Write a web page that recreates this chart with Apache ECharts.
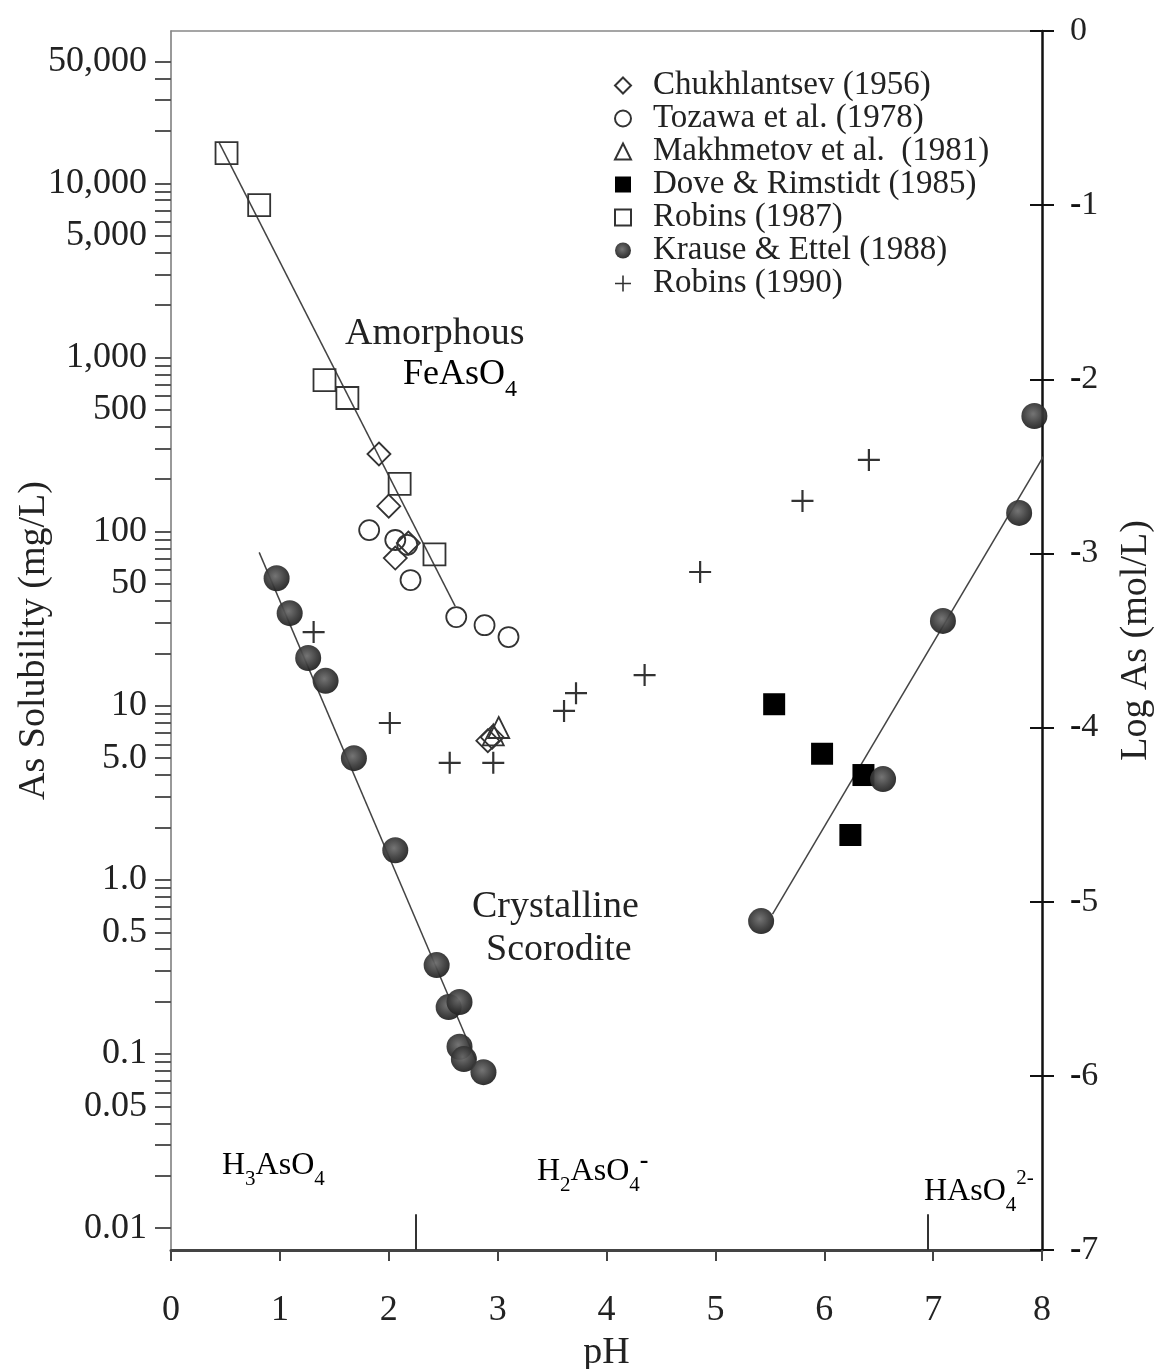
<!DOCTYPE html>
<html><head><meta charset="utf-8">
<script src="https://cdn.jsdelivr.net/npm/echarts@6/dist/echarts.min.js"></script>
<style>html,body{margin:0;padding:0;background:#fff}#c{width:1157px;height:1369px}</style>
</head><body><div id="c"></div>
<script>
// ---------- data (pH, As mg/L) ----------
const chukhlantsev = [[1.91,279],[2.00,140],[2.06,70.5],[2.18,86],[2.91,6.3],[2.95,6.6]];
const tozawa = [[1.82,102],[2.06,89.5],[2.17,84],[2.20,52.7],[2.62,32.3],[2.88,29],[3.10,24.8]];
const makhmetov = [[2.96,6.8],[3.01,7.5]];
const doveRimstidt = [[5.54,10.2],[5.98,5.3],[6.36,4.0],[6.24,1.81]];
const robins1987 = [[0.51,14900],[0.81,7500],[1.41,741],[1.62,585],[2.10,188],[2.42,74]];
const krauseEttel = [[0.97,54],[1.09,34],[1.26,18.8],[1.42,13.9],[1.68,5.0],[2.06,1.48],[2.44,0.324],
  [2.55,0.186],[2.65,0.199],[2.65,0.110],[2.69,0.0935],[2.87,0.0787],
  [5.42,0.58],[6.54,3.79],[7.09,30.7],[7.79,128],[7.93,461]];
const robins1990 = [[1.31,26.5],[2.01,7.96],[2.56,4.70],[2.96,4.70],[3.61,9.34],[3.72,11.8],[4.35,15.0],[4.86,58.6],[5.80,150],[6.41,258]];
// fitted lines
const fitAmorphous = [[0.44,17250],[2.61,37.3]];
const fitScoroditeAcid = [[0.81,76],[2.80,0.092]];
const fitScoroditeNeutral = [[5.525,0.636],[8.05,295]];
// pKa values of arsenic acid
const pKa = [2.25, 6.95];
// axis ticks
const xTicks = [0,1,2,3,4,5,6,7,8];
const leftLabelValues = [50000,10000,5000,1000,500,100,50,10,5,1,0.5,0.1,0.05,0.01];
const leftLabelTexts = ['50,000','10,000','5,000','1,000','500','100','50','10','5.0','1.0','0.5','0.1','0.05','0.01'];
const rightTicks = [0,-1,-2,-3,-4,-5,-6,-7];
const AS_MG_PER_MOL = 74921.6;

// ---------- helpers ----------
const lg = v => Math.log10(v);
const toXY = arr => arr.map(p => [p[0], lg(p[1])]);
const LMIN = lg(AS_MG_PER_MOL * 1e-7);
const LMAX = lg(AS_MG_PER_MOL);
const minorTicks = [];
for (let d = -2; d <= 4; d++) for (let k = 1; k <= 9; k++) { const v = k * Math.pow(10, d); if (v <= 50000 + 1e-9) minorTicks.push(lg(v)); }
const FONT = 'Liberation Serif';
const INK = '#222';

const chart = echarts.init(document.getElementById('c'));

function scatter(name, data, symbol, size, itemStyle) {
  return {name, type:'scatter', data: toXY(data), symbol, symbolSize: size, itemStyle, z: 3,
    xAxisIndex:0, yAxisIndex:0, emphasis:{disabled:true}};
}
function fit(data) {
  return {type:'line', data: toXY(data), symbol:'none', lineStyle:{color:'#444', width:1.5}, z:2, clip:false,
    xAxisIndex:0, yAxisIndex:0, silent:true};
}
const openStyle = {color:'rgba(255,255,255,0)', borderColor:'#333', borderWidth:1.8, opacity:1};
const krauseColor = {type:'radial', x:0.45, y:0.42, r:0.6, colorStops:[{offset:0,color:'#6a6a6a'},{offset:0.6,color:'#3a3a3a'},{offset:1,color:'#1e1e1e'}]};
const plusPath = 'path://M0,9h20v2h-20z M9,0h2v20h-2z';

const names = ['Chukhlantsev (1956)','Tozawa et al. (1978)','Makhmetov et al.  (1981)','Dove & Rimstidt (1985)','Robins (1987)','Krause & Ettel (1988)','Robins (1990)'];

const sub = (fs, lh) => ({fontSize: fs, fontFamily: FONT, color: INK, lineHeight: lh, verticalAlign:'bottom'});
const sup = (fs, lh) => ({fontSize: fs, fontFamily: FONT, color: INK, lineHeight: lh, verticalAlign:'top', fontWeight:'bold'});
const nrm = (fs, lh) => ({fontSize: fs, fontFamily: FONT, color: INK, lineHeight: lh});

const pKaLines = pKa.map(p => [{coord:[p, LMIN]}, {coord:[p, LMIN + 0.205]}]);

const option = {
  animation: false,
  backgroundColor: '#fff',
  grid: {left:171, right:115, top:31, bottom:119, outerBoundsMode:'none', containLabel:false},
  legend: {
    data: names, orient:'vertical', left:609, top:64, itemGap:0, itemWidth:16, itemHeight:16,
    selectedMode:false,
    textStyle:{fontFamily:FONT, fontSize:33, color:INK, lineHeight:32.7, padding:[0,0,0,17]}
  },
  xAxis: [
    {type:'value', min:0, max:8, interval:1, position:'bottom',
     axisLine:{onZero:false, lineStyle:{color:'#444', width:3}},
     axisTick:{length:11, lineStyle:{color:'#444', width:2}},
     axisLabel:{fontFamily:FONT, fontSize:36, color:INK, margin:43, formatter: v => xTicks.includes(v) ? String(v) : ''},
     splitLine:{show:false},
     name:'pH', nameLocation:'middle', nameGap:84, nameMoveOverlap:false,
     nameTextStyle:{fontFamily:FONT, fontSize:38, color:INK}},
    {type:'value', min:0, max:8, position:'top', axisLine:{onZero:false, lineStyle:{color:'#888', width:1.5}},
     axisTick:{show:false}, axisLabel:{show:false}, splitLine:{show:false}}
  ],
  yAxis: [
    {type:'value', min:LMIN, max:LMAX, position:'left',
     axisLine:{onZero:false, lineStyle:{color:'#777', width:1.5}},
     axisTick:{customValues:minorTicks, length:16, lineStyle:{color:'#555', width:2}},
     axisLabel:{customValues:leftLabelValues.map(lg), fontFamily:FONT, fontSize:36, color:INK, margin:24,
       formatter: v => { const i = leftLabelValues.findIndex(x => Math.abs(lg(x) - v) < 1e-6); return i >= 0 ? leftLabelTexts[i] : ''; }},
     splitLine:{show:false},
     name:'As Solubility (mg/L)', nameLocation:'middle', nameRotate:90, nameGap:118, nameMoveOverlap:false,
     nameTextStyle:{fontFamily:FONT, fontSize:38, color:INK}},
    {type:'value', min:-7, max:0, interval:1, position:'right',
     axisLine:{onZero:false, lineStyle:{color:'#111', width:2.5}},
     axisTick:{length:12, lineStyle:{color:'#111', width:2}},
     axisLabel:{fontFamily:FONT, fontSize:34, color:INK, margin:28,
       formatter: v => rightTicks.includes(v) ? (v < 0 ? '{m|-}{d|' + (-v) + '}' : '{d|' + v + '}') : '',
       rich:{m:{fontFamily:FONT, fontSize:34, fontWeight:'bold', color:'#111'}, d:{fontFamily:FONT, fontSize:34, color:INK}}},
     splitLine:{show:false},
     name:'Log As (mol/L)', nameLocation:'middle', nameRotate:90, nameGap:75, nameMoveOverlap:false,
     nameTextStyle:{fontFamily:FONT, fontSize:38, color:INK}},
    {type:'value', min:-7, max:0, interval:1, position:'right',
     axisLine:{show:false, onZero:false}, axisTick:{inside:true, length:12, lineStyle:{color:'#111', width:2}},
     axisLabel:{show:false}, splitLine:{show:false}}
  ],
  series: [
    fit(fitAmorphous), fit(fitScoroditeAcid), fit(fitScoroditeNeutral),
    scatter(names[0], chukhlantsev, 'diamond', 23, openStyle),
    scatter(names[1], tozawa, 'circle', 20, openStyle),
    scatter(names[2], makhmetov, 'triangle', 21, openStyle),
    scatter(names[3], doveRimstidt, 'rect', 22, {color:'#000', opacity:1}),
    scatter(names[4], robins1987, 'rect', 22, openStyle),
    scatter(names[5], krauseEttel, 'circle', 26, {color:krauseColor, opacity:0.93}),
    scatter(names[6], robins1990, plusPath, 22, {color:'#333', borderWidth:0, opacity:1}),
    {type:'line', data:[], xAxisIndex:0, yAxisIndex:0, silent:true,
     markLine:{symbol:'none', silent:true, label:{show:false}, lineStyle:{color:'#333', width:2, type:'solid'}, data:pKaLines}}
  ],
  graphic: [
    {type:'text', left:345, top:315, style:{text:'Amorphous', fontFamily:FONT, fontSize:38, fill:INK}},
    {type:'text', left:403, top:357, style:{text:'{n|FeAsO}{s|4}', rich:{n:nrm(36,54), s:sub(24,30)}}},
    {type:'text', left:472, top:888, style:{text:'Crystalline', fontFamily:FONT, fontSize:38, fill:INK}},
    {type:'text', left:486, top:931, style:{text:'Scorodite', fontFamily:FONT, fontSize:38, fill:INK}},
    {type:'text', left:222, top:1150, style:{text:'{n|H}{s|3}{n|AsO}{s|4}', rich:{n:nrm(32,48), s:sub(21,26)}}},
    {type:'text', left:537, top:1148, style:{text:'{n|H}{s|2}{n|AsO}{s|4}{p|-}', rich:{n:nrm(32,48), s:sub(21,26), p:sup(26,24)}}},
    {type:'text', left:924, top:1168, style:{text:'{n|HAsO}{s|4}{p|2-}', rich:{n:nrm(32,48), s:sub(21,26), p:{fontSize:21, fontFamily:FONT, color:INK, lineHeight:24, verticalAlign:'top'}}}}
  ]
};
chart.setOption(option);
</script></body></html>
